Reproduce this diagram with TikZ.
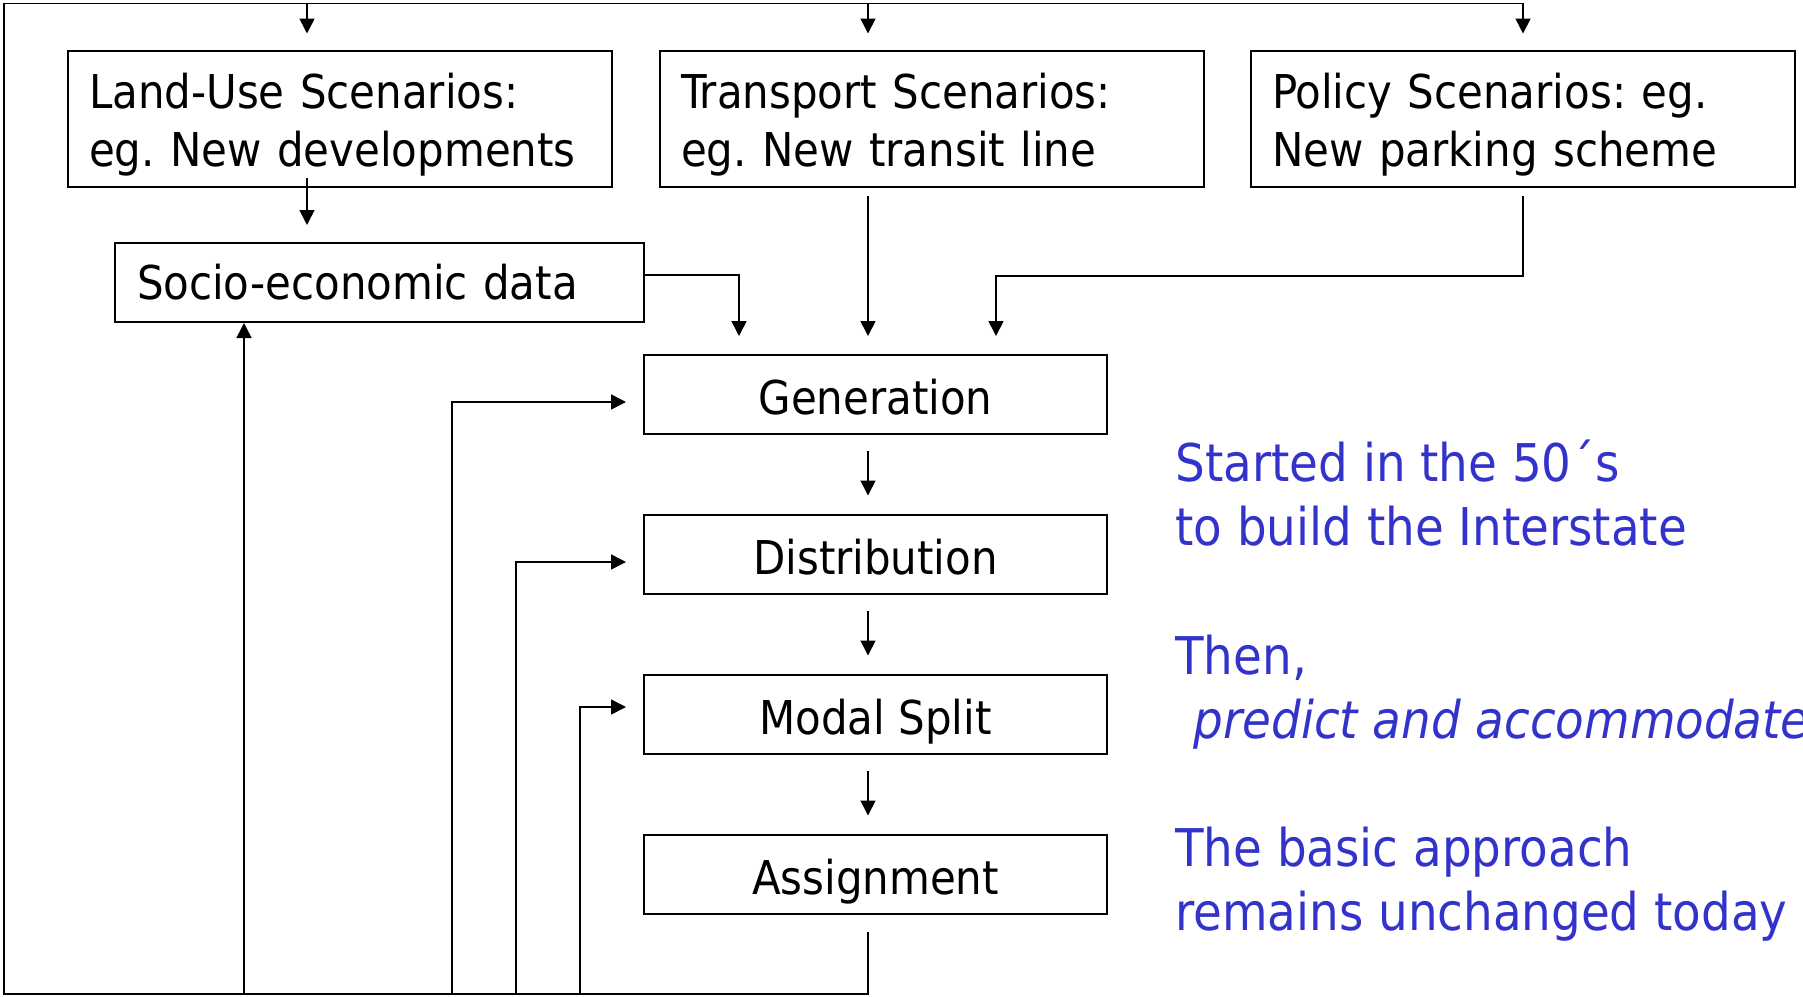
\documentclass[tikz,border=0pt]{standalone}
\usepackage{fontspec}
\setmainfont{DejaVu Sans Condensed}[ItalicFont={DejaVu Sans Condensed Oblique}]
\usetikzlibrary{arrows.meta}
\definecolor{bleu}{RGB}{51,51,204}
\frenchspacing
\tikzset{
  boite/.style={draw,line width=1pt,inner sep=0pt,minimum height=39.5pt},
  scen/.style={boite,minimum height=68pt,inner xsep=10.5pt,text width=251pt,align=left,
    execute at begin node={\rule{0pt}{23.5pt}}},
  etape/.style={boite,minimum width=231.5pt,align=center,text height=20pt,text depth=0pt},
  fl/.style={line width=0.8pt,-{Triangle[width=7.5pt,length=7.5pt]}},
  note/.style={text=bleu,align=left,anchor=west,inner sep=0pt,font=\fontsize{26}{32}\selectfont}
}
\begin{document}
\begin{tikzpicture}[x=0.5pt,y=-0.5pt,font=\fontsize{23.3}{29.3}\selectfont]
\useasboundingbox (0,0) rectangle (1803,996);
% scenarios
\node[scen] (land) at (340,119) {Land-Use Scenarios:\\eg. New developments};
\node[scen] (trans) at (932,119) {Transport Scenarios:\\eg. New transit line};
\node[scen] (policy) at (1523,119) {Policy Scenarios: eg.\\New parking scheme};
\node[boite,inner xsep=11pt,text width=242.5pt,align=left] (socio) at (379.5,282.5) {Socio-economic data};
% the four steps
\node[etape] (gen) at (875.5,394.5) {Generation};
\node[etape] (dist) at (875.5,554) {Distribution};
\node[etape] (modal) at (875.5,714) {Modal Split};
\node[etape] (assign) at (875.5,874) {Assignment};
\coordinate (bg) at (4,994);
\coordinate (hg) at (4,3.5);
% arrows into generation
\draw[fl,shorten >=8.5pt] ([xshift=-16.5pt,yshift=5pt]land.south) -- ([xshift=-16.5pt]land.south |- socio.north);
\draw[fl,shorten >=9pt] ([yshift=3.75pt]socio.east) -| ([xshift=-68.25pt]gen.north);
\draw[fl,shorten >=9pt] ([xshift=-32pt,yshift=-4pt]trans.south) -- ([xshift=-3.75pt]gen.north);
\draw[fl,shorten >=9pt] ([yshift=-4pt]policy.south) -- ++(0,80) -| ([xshift=60.25pt]gen.north);
\foreach \a/\b in {gen/dist,dist/modal,modal/assign}
  \draw[fl,shorten <=8pt,shorten >=9pt] ([xshift=-3.75pt]\a.south) -- ([xshift=-3.75pt]\b.north);
% feedback loop
\draw[fl,line width=0.9pt,shorten >=8.25pt] ([xshift=-3.75pt,yshift=-8.5pt]assign.south) |- (bg) -- (hg) -| (policy.north);
\draw[fl,shorten >=8.25pt] ([xshift=-16.5pt]land.north |- hg) -- ([xshift=-16.5pt]land.north);
\draw[fl,shorten >=8.25pt] ([xshift=-32pt]trans.north |- hg) -- ([xshift=-32pt]trans.north);
\draw[fl] ([xshift=-67.75pt]socio.south |- bg) -- ([xshift=-67.75pt]socio.south);
\foreach \x/\n/\dy in {452/gen/-3.75,516/dist/-4,580/modal/3.5}{
  \coordinate (pied\n) at (\x,994);
  \draw[fl,shorten >=8.5pt] (pied\n) |- ([yshift=\dy pt]\n.west);
}
% comments
\node[note] (n1) at (1175,493) {Started in the 50´s\\to build the Interstate};
\node[note] (n2) at (1175,692) {Then,\\\hspace*{0.35em}\textit{predict and accommodate}};
\node[note] (n3) at (1175,884) {The basic approach\\remains unchanged today};
\end{tikzpicture}
\end{document}
